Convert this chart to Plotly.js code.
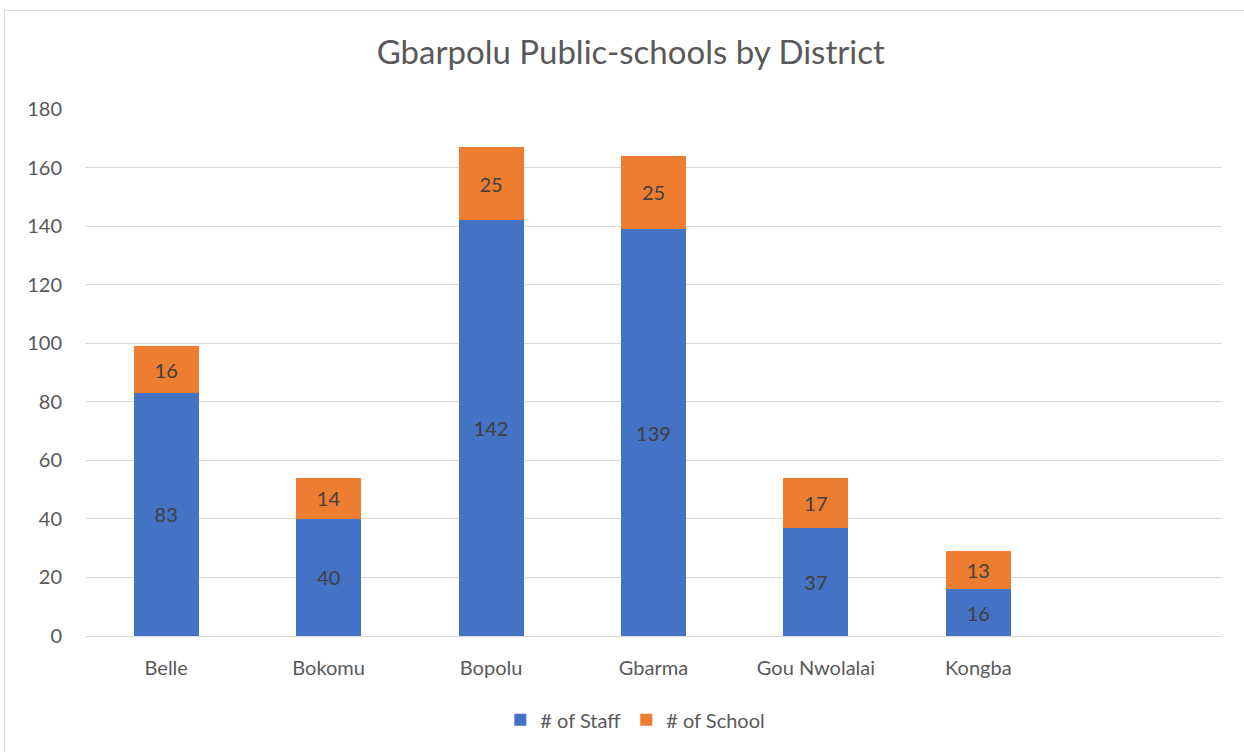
<!DOCTYPE html>
<html>
<head>
<meta charset="utf-8">
<script src="https://cdn.plot.ly/plotly-3.0.1.min.js"></script>
<style>
  html, body { margin: 0; padding: 0; background: #ffffff; }
  #wrap { position: relative; width: 1244px; height: 752px; overflow: hidden; }
  #chart { position: absolute; left: 0; top: 0; width: 1244px; height: 752px; }
  #frame { position: absolute; left: 4px; top: 10px; width: 1250px; height: 760px;
           border: 1px solid #d9d9d9; pointer-events: none; }
</style>
</head>
<body>
<div id="wrap">
  <div id="chart"></div>
  <div id="frame"></div>
</div>
<script>
const districts = ["Belle", "Bokomu", "Bopolu", "Gbarma", "Gou Nwolalai", "Kongba"];
const staff = [83, 40, 142, 139, 37, 16];
const schools = [16, 14, 25, 25, 17, 13];
const yTicks = [0, 20, 40, 60, 80, 100, 120, 140, 160, 180];

const font = "Lato, 'Open Sans', sans-serif";

const traces = [
  {
    type: "bar", name: "# of Staff", x: districts, y: staff,
    marker: { color: "#4472C4", line: { width: 0 } },
    text: staff.map(String), textposition: "inside", insidetextanchor: "middle",
    textfont: { family: font, size: 20, color: "#404040" }, constraintext: "none",
    hoverinfo: "x+y"
  },
  {
    type: "bar", name: "# of School", x: districts, y: schools,
    marker: { color: "#ED7D31", line: { width: 0 } },
    text: schools.map(String), textposition: "inside", insidetextanchor: "middle",
    textfont: { family: font, size: 20, color: "#404040" }, constraintext: "none",
    hoverinfo: "x+y"
  }
];

const layout = {
  width: 1244, height: 752,
  barmode: "stack", bargap: 0.6,
  paper_bgcolor: "rgba(0,0,0,0)", plot_bgcolor: "#ffffff",
  margin: { l: 85, r: 22, t: 109, b: 116 },
  title: { text: "Gbarpolu Public-schools by District", x: 0.507, xanchor: "center", y: 0.93, yanchor: "middle",
           font: { family: font, size: 33, color: "#595959" } },
  font: { family: font, size: 20, color: "#595959" },
  xaxis: { type: "category", range: [-0.5, 6.5], showgrid: false, zeroline: false,
           showline: true, linecolor: "#d9d9d9", linewidth: 1, ticks: "",
           tickfont: { family: font, size: 20, color: "#595959" }, ticklabelstandoff: 14 },
  yaxis: { range: [0, 180], tickvals: yTicks, ticktext: yTicks.map(String),
           showgrid: true, gridcolor: "#d9d9d9", gridwidth: 1, zeroline: false,
           showline: false, ticks: "", ticklabelstandoff: 22,
           tickfont: { family: font, size: 20, color: "#595959" } },
  showlegend: true,
  legend: { orientation: "h", x: 0.484, xanchor: "center", y: -0.159, yanchor: "middle",
            font: { family: font, size: 20, color: "#595959" }, traceorder: "normal" }
};

Plotly.newPlot("chart", traces, layout, { displayModeBar: false, staticPlot: true });
</script>
</body>
</html>
